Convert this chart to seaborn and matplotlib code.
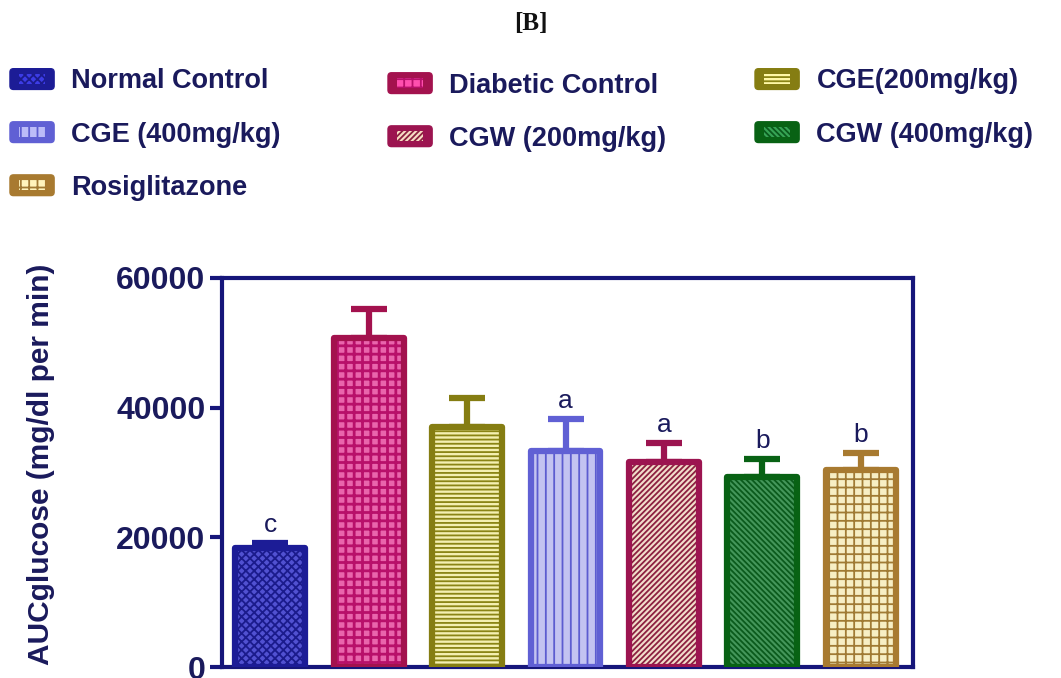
import matplotlib
matplotlib.use("Agg")
import matplotlib.pyplot as plt
from matplotlib.patches import Patch, Rectangle, FancyBboxPatch
from matplotlib.legend_handler import HandlerBase
import seaborn as sns

# Group means and upper SEM bars for the glucose AUC
groups = ["Normal Control", "Diabetic Control", "CGE(200mg/kg)", "CGE (400mg/kg)",
          "CGW (200mg/kg)", "CGW (400mg/kg)", "Rosiglitazone"]
auc_mean = [18300, 50800, 37000, 33300, 31600, 29300, 30400]
auc_sem = [800, 4400, 4500, 5000, 3000, 2800, 2600]
sig_letters = ["c", "", "", "a", "a", "b", "b"]
y_ticks = [0, 20000, 40000, 60000]

# Styling for each group: fill, hatch colour, outline, hatch pattern
fills = ["#3c3ce6", "#ff4fae", "#fff8a6", "#bcbcf8", "#f8dcc4", "#36a454", "#fff4bc"]
hatch_cols = ["#1b1b8c", "#b8106a", "#8a8414", "#5c5cd0", "#8c2040", "#0a5a1c", "#a07a34"]
outlines = ["#1c1c96", "#a3124e", "#857d12", "#6060d4", "#9c1450", "#086214", "#a87a30"]
hatches = ["xxxx", "++", "----", "||", "//////", "\\\\\\\\\\\\", "++"]
hatch_widths = [1.3, 2.0, 1.3, 1.3, 1.3, 1.3, 1.3]

navy = "#16167a"
text_col = "#1a1a5c"

sns.set_theme(style="white")
plt.rcParams["font.family"] = ["Liberation Sans", "DejaVu Sans"]
plt.rcParams["hatch.linewidth"] = 1.3

fig = plt.figure(figsize=(10.61, 6.78), dpi=100)
ax = fig.add_axes([0.2092, 0.0162, 0.6513, 0.5738])

sns.barplot(x=groups, y=auc_mean, hue=groups, palette=fills, legend=False,
            width=0.71, linewidth=0, ax=ax, errorbar=None)

bars = list(ax.patches)
for i, bar in enumerate(bars):
    bar.set_hatch(hatches[i])
    bar.set_edgecolor(hatch_cols[i])
    bar.set_linewidth(0)
    bar.set_zorder(2)
    if hasattr(bar, "set_hatch_linewidth"):
        bar.set_hatch_linewidth(hatch_widths[i])
    # thick outline on top of the hatch
    ax.add_patch(Rectangle((bar.get_x(), bar.get_y()), bar.get_width(), bar.get_height(),
                           fill=False, edgecolor=outlines[i], linewidth=4.5,
                           joinstyle="round", zorder=3))
    cx = bar.get_x() + bar.get_width() / 2
    ax.errorbar(cx, auc_mean[i], yerr=[[0], [auc_sem[i]]], fmt="none",
                ecolor=outlines[i], elinewidth=4.5, capsize=13, capthick=4.5, zorder=1)
    if sig_letters[i]:
        ax.text(cx, auc_mean[i] + auc_sem[i] + 900, sig_letters[i], ha="center",
                va="bottom", fontsize=19, color=text_col)

ax.set_ylim(0, 60000)
ax.set_xlim(-0.49, 6.53)
ax.set_yticks(y_ticks)
ax.set_yticklabels([str(t) for t in y_ticks], fontsize=23, fontweight="bold", color=text_col)
ax.set_xticks([])
ax.set_xlabel("")
ax.set_ylabel("AUCglucose (mg/dl per min)", fontsize=21.5, fontweight="bold",
              color=text_col)
ax.yaxis.set_label_coords(-0.242, 0.52)
ax.tick_params(axis="y", direction="out", length=9, width=3, color=navy, left=True, pad=3)
for side in ["left", "right", "top", "bottom"]:
    ax.spines[side].set_visible(True)
    ax.spines[side].set_color(navy)
    ax.spines[side].set_linewidth(3)

fig.text(0.5, 0.966, "[B]", ha="center", va="center", fontsize=18, fontweight="bold",
         family=["Liberation Serif", "DejaVu Serif"], color="#111111")


class FramedSwatch(HandlerBase):
    """Legend key: a rounded coloured frame with the bar pattern inside."""

    def __init__(self, frame_color):
        super().__init__()
        self.frame_color = frame_color

    def create_artists(self, legend, orig_handle, xdescent, ydescent, width, height,
                       fontsize, trans):
        x0, y0 = -xdescent, -ydescent
        outer = FancyBboxPatch((x0, y0), width, height,
                               boxstyle="round,pad=0,rounding_size=2.5",
                               facecolor=self.frame_color, edgecolor=self.frame_color,
                               linewidth=1, transform=trans)
        ix, iy = width * 0.2, height * 0.27
        inner = Rectangle((x0 + ix, y0 + iy), width - 2 * ix, height - 2 * iy,
                          facecolor=orig_handle.get_facecolor(),
                          edgecolor=orig_handle.get_edgecolor(),
                          hatch=orig_handle.get_hatch(), linewidth=0, transform=trans)
        return [outer, inner]


handles = [Patch(facecolor=fills[i], edgecolor=hatch_cols[i], hatch=hatches[i])
           for i in range(len(groups))]

# three legend columns across the top
columns = [[0, 3, 6], [1, 4], [2, 5]]
anchors = [(0.0094, 0.899), (0.3657, 0.893), (0.7116, 0.899)]
for col, anc in zip(columns, anchors):
    leg = fig.legend([handles[i] for i in col], [groups[i] for i in col],
                     loc="upper left", bbox_to_anchor=anc, frameon=False,
                     borderaxespad=0, borderpad=0,
                     handlelength=1.63, handleheight=0.8, handletextpad=0.64,
                     labelspacing=1.0, prop={"size": 19.5, "weight": "bold"},
                     handler_map={handles[i]: FramedSwatch(outlines[i]) for i in col})
    for t in leg.get_texts():
        t.set_color(text_col)

fig.savefig("out.png", dpi=100, facecolor="white")
